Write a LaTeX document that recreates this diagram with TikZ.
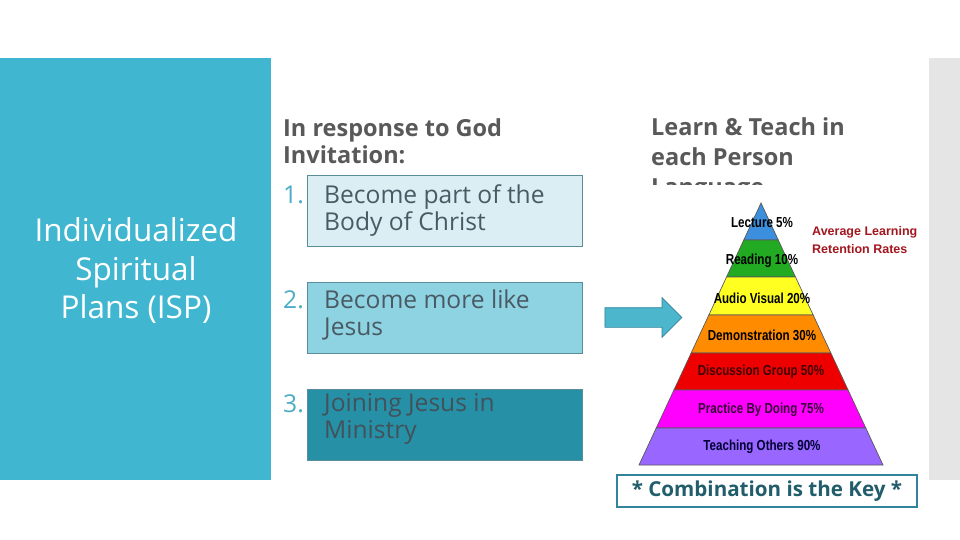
\documentclass[tikz,border=0pt]{standalone}
\usepackage{fontspec}
\setmainfont{Open Sans}
\newfontfamily\pyrfont[FakeStretch=0.8]{Liberation Sans}
\newfontfamily\keyfont{Liberation Sans}
\usepackage{xcolor}
\usetikzlibrary{shapes.arrows, positioning}

\definecolor{panelblue}{HTML}{41B6D0}
\definecolor{headgray}{HTML}{595959}
\definecolor{numteal}{HTML}{4BACC6}
\definecolor{boxline}{HTML}{5A8C99}
\definecolor{boxtext}{HTML}{4A5A64}
\definecolor{boxone}{HTML}{DAEEF3}
\definecolor{boxtwo}{HTML}{8ED3E2}
\definecolor{boxthree}{HTML}{2690A6}
\definecolor{arrowfill}{HTML}{4BB6CC}
\definecolor{arrowline}{HTML}{31859C}
\definecolor{keyline}{HTML}{31849B}
\definecolor{keytext}{HTML}{215D6B}
\definecolor{retention}{HTML}{A3161E}
\definecolor{stripgray}{HTML}{E5E5E5}
\definecolor{pblue}{HTML}{3B8FDC}
\definecolor{pgreen}{HTML}{22AA22}
\definecolor{pyellow}{HTML}{FFFF22}
\definecolor{porange}{HTML}{FF8C00}
\definecolor{pred}{HTML}{EE0000}
\definecolor{pmagenta}{HTML}{FF00FF}
\definecolor{pviolet}{HTML}{9966FF}

\tikzset{
  heading/.style={anchor=base west, inner sep=0pt, text=headgray, font=\fontsize{23.5}{27}\selectfont\bfseries, align=left},
  stepbox/.style={draw=boxline, line width=0.8pt, minimum width=275pt, minimum height=71pt, anchor=north west},
  boxlabel/.style={anchor=base west, inner sep=0pt, text=boxtext, font=\fontsize{24.6}{27}\selectfont, align=left},
  number/.style={anchor=base west, inner sep=0pt, text=numteal, font=\fontsize{24.6}{27}\selectfont},
  layer/.style={draw=black!65, line width=0.7pt},
  layerlabel/.style={inner sep=0pt, font=\pyrfont\fontsize{14.5}{16}\selectfont\bfseries}
}

\begin{document}
\begin{tikzpicture}[x=1pt, y=-1pt]
        \useasboundingbox (0,0) rectangle (960,540);
        \fill[white] (0,0) rectangle (960,540);

        % Linke Spalte und grauer Rand
        \fill[panelblue] (0,58) rectangle (271,480);
        \fill[stripgray] (929,58) rectangle (960,480);
        \node[text=white, align=center, font=\fontsize{31.5}{38.5}\selectfont] (isp) at (136,271)
            {Individualized\\Spiritual\\Plans (ISP)};

        % Mitte: die drei Schritte (base = letzte Zeile)
        \node[heading] (invite) at (283,164) {In response to God\\Invitation:};
        \node[stepbox, fill=boxone] (s1) at (307,175) {};
        \node[stepbox, fill=boxtwo] (s2) at (307,282) {};
        \node[stepbox, fill=boxthree] (s3) at (307,389) {};
        \node[number] (n1) at (283,203) {1.};
        \node[number] (n2) at (283,308) {2.};
        \node[number] (n3) at (283,412) {3.};
        \node[boxlabel] (t1) at (324,230) {Become part of the\\Body of Christ};
        \node[boxlabel] (t2) at (324,335) {Become more like\\Jesus};
        \node[boxlabel, text=boxtext!90!black] (t3) at (324,438) {Joining Jesus in\\Ministry};

        % Pfeil
        \node[single arrow, draw=arrowline, fill=arrowfill, line width=0.7pt,
              minimum height=77pt, minimum width=39pt, inner sep=9.5pt,
              single arrow head extend=10pt, single arrow tip angle=90] (go) at (638.5,317.5) {};

        % Rechts: Titel (letzte Zeile vom Bild verdeckt)
        \node[heading, font=\fontsize{23.5}{30}\selectfont\bfseries] (learn) at (651,166)
            {Learn \& Teach in\\each Person};
        \begin{scope}
            \clip (640,170) rectangle (900,184);
            \node[heading] (lang) at (651,196) {Language};
        \end{scope}

        % Pyramide
        \foreach \ya/\yb/\col in {203/240/pblue, 240/277/pgreen, 277/315/pyellow,
                315/353/porange, 353/390/pred, 390/428/pmagenta, 428/465/pviolet}{
            \filldraw[layer, fill=\col]
                ({761-0.4656*(\ya-203)},\ya) -- ({761+0.4656*(\ya-203)},\ya) --
                ({761+0.4656*(\yb-203)},\yb) -- ({761-0.4656*(\yb-203)},\yb) -- cycle;
        }
        \node[layerlabel] (l1) at (762,223) {Lecture 5\%};
        \node[layerlabel] (l2) at (762,261) {Reading 10\%};
        \node[layerlabel] (l3) at (762,298) {Audio Visual 20\%};
        \node[layerlabel] (l4) at (762,335) {Demonstration 30\%};
        \node[layerlabel, text=red!25!black] (l5) at (761,372) {Discussion Group 50\%};
        \node[layerlabel, text=violet!45!black] (l6) at (761,410) {Practice By Doing 75\%};
        \node[layerlabel, text=blue!20!black] (l7) at (762,447) {Teaching Others 90\%};
        \node[anchor=north west, inner sep=0pt, align=left, text=retention,
              font=\keyfont\fontsize{12.5}{18}\selectfont\bfseries] (avg) at (812,226)
            {Average Learning\\Retention Rates};

        % Merksatz
        \node[draw=keyline, line width=1.5pt, minimum width=300pt, minimum height=32pt,
              text=keytext, font=\fontsize{20.6}{24}\selectfont\bfseries] (key) at (767,491)
            {* Combination is the Key *};
    \end{tikzpicture}
\end{document}
